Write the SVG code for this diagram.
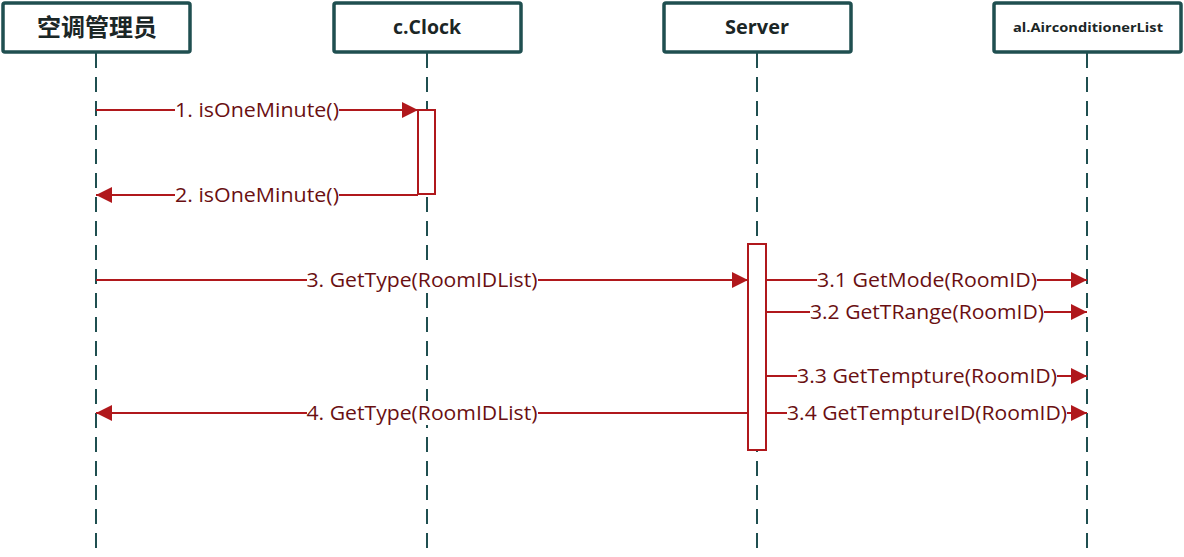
<svg xmlns="http://www.w3.org/2000/svg" width="1184" height="557" viewBox="0 0 1184 557">
<style>
.box{fill:#fff;stroke:#1f4f50;stroke-width:3.5}
.life{stroke:#1f4f50;stroke-width:2;stroke-dasharray:15 9;fill:none}
.title{font-family:"Open Sans","Noto Sans CJK SC",sans-serif;font-weight:bold;fill:#1b2626;text-anchor:middle}
.msg{stroke:#b0181c;stroke-width:2;fill:none}
.act{fill:#fff;stroke:#b0181c;stroke-width:2}
.lbl{font-family:"Open Sans","Liberation Sans",sans-serif;font-size:20px;fill:#6a0f12;text-anchor:middle}
.bg{fill:#fff}
</style>
<defs>
<marker id="ah" viewBox="0 0 16 16" refX="16" refY="8" markerWidth="16" markerHeight="16" markerUnits="userSpaceOnUse" orient="auto">
<path d="M0,0 L16,8 L0,16 Z" fill="#b0181c"/>
</marker>
</defs>
<g id="lifelines">
<line class="life" x1="96" y1="53" x2="96" y2="548"/>
<line class="life" x1="427" y1="53" x2="427" y2="548"/>
<line class="life" x1="757" y1="53" x2="757" y2="548"/>
<line class="life" x1="1087" y1="53" x2="1087" y2="548"/>
</g>
<g id="node-admin">
<rect class="box" x="3" y="3" width="187" height="49" rx="2"/>
<text class="title" x="97" y="36" font-size="24">空调管理员</text>
</g>
<g id="node-clock">
<rect class="box" x="334" y="3" width="187" height="49" rx="2"/>
<text class="title" x="427" y="34" font-size="20" textLength="68" lengthAdjust="spacingAndGlyphs">c.Clock</text>
</g>
<g id="node-server">
<rect class="box" x="664" y="3" width="187" height="49" rx="2"/>
<text class="title" x="757" y="34" font-size="20" textLength="64" lengthAdjust="spacingAndGlyphs">Server</text>
</g>
<g id="node-aclist">
<rect class="box" x="994" y="3" width="187" height="49" rx="2"/>
<text class="title" x="1088" y="32" font-size="13" textLength="150" lengthAdjust="spacingAndGlyphs">al.AirconditionerList</text>
</g>
<g id="activations">
<rect class="act" x="418" y="110" width="17" height="84"/>
<rect class="act" x="748" y="244" width="18" height="206"/>
</g>
<g id="connectors">
<line class="msg" x1="96" y1="110" x2="418" y2="110" marker-end="url(#ah)"/>
<line class="msg" x1="418" y1="195" x2="96" y2="195" marker-end="url(#ah)"/>
<line class="msg" x1="96" y1="280" x2="748" y2="280" marker-end="url(#ah)"/>
<line class="msg" x1="766" y1="280" x2="1087" y2="280" marker-end="url(#ah)"/>
<line class="msg" x1="766" y1="312" x2="1087" y2="312" marker-end="url(#ah)"/>
<line class="msg" x1="766" y1="376" x2="1087" y2="376" marker-end="url(#ah)"/>
<line class="msg" x1="766" y1="413" x2="1087" y2="413" marker-end="url(#ah)"/>
<line class="msg" x1="748" y1="413" x2="96" y2="413" marker-end="url(#ah)"/>
</g>
<g id="labels">
<rect class="bg" x="175" y="98" width="164" height="24"/>
<text class="lbl" x="257" y="117" textLength="164" lengthAdjust="spacingAndGlyphs">1. isOneMinute()</text>
<rect class="bg" x="175" y="183" width="164" height="24"/>
<text class="lbl" x="257" y="202" textLength="164" lengthAdjust="spacingAndGlyphs">2. isOneMinute()</text>
<rect class="bg" x="307" y="268" width="231" height="24"/>
<text class="lbl" x="422" y="287" textLength="231" lengthAdjust="spacingAndGlyphs">3. GetType(RoomIDList)</text>
<rect class="bg" x="817" y="268" width="220" height="24"/>
<text class="lbl" x="927" y="287" textLength="220" lengthAdjust="spacingAndGlyphs">3.1 GetMode(RoomID)</text>
<rect class="bg" x="810" y="300" width="234" height="24"/>
<text class="lbl" x="927" y="319" textLength="234" lengthAdjust="spacingAndGlyphs">3.2 GetTRange(RoomID)</text>
<rect class="bg" x="797" y="364" width="260" height="24"/>
<text class="lbl" x="927" y="383" textLength="260" lengthAdjust="spacingAndGlyphs">3.3 GetTempture(RoomID)</text>
<rect class="bg" x="787" y="401" width="280" height="24"/>
<text class="lbl" x="927" y="420" textLength="280" lengthAdjust="spacingAndGlyphs">3.4 GetTemptureID(RoomID)</text>
<rect class="bg" x="307" y="401" width="231" height="24"/>
<text class="lbl" x="422" y="420" textLength="231" lengthAdjust="spacingAndGlyphs">4. GetType(RoomIDList)</text>
</g>
</svg>
